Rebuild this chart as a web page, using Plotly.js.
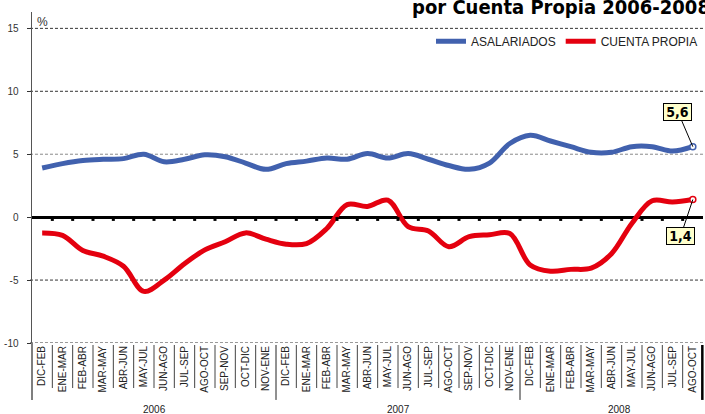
<!DOCTYPE html>
<html>
<head>
<meta charset="utf-8">
<script src="https://cdn.plot.ly/plotly-3.0.1.min.js"></script>
<style>html,body{margin:0;padding:0;background:#fff;}#chart{width:705px;height:414px;}</style>
</head>
<body>
<div id="chart"></div>
<script>
const categories = [
  'DIC-FEB','ENE-MAR','FEB-ABR','MAR-MAY','ABR-JUN','MAY-JUL','JUN-AGO','JUL-SEP','AGO-OCT','SEP-NOV','OCT-DIC','NOV-ENE',
  'DIC-FEB','ENE-MAR','FEB-ABR','MAR-MAY','ABR-JUN','MAY-JUL','JUN-AGO','JUL-SEP','AGO-OCT','SEP-NOV','OCT-DIC','NOV-ENE',
  'DIC-FEB','ENE-MAR','FEB-ABR','MAR-MAY','ABR-JUN','MAY-JUL','JUN-AGO','JUL-SEP','AGO-OCT'
];
const years = ['2006','2007','2008'];
const yearCounts = [12, 12, 9];
const asalariados = [3.9,4.25,4.5,4.6,4.65,5.0,4.4,4.6,4.95,4.8,4.3,3.8,
                     4.25,4.45,4.7,4.6,5.05,4.7,5.05,4.6,4.1,3.8,4.3,5.85,
                     6.5,6.05,5.6,5.15,5.15,5.6,5.6,5.25,5.6];
const cuentaPropia = [-1.25,-1.45,-2.65,-3.1,-3.9,-5.9,-5.0,-3.7,-2.6,-1.95,-1.25,-1.75,
                      -2.15,-2.1,-0.9,1.0,0.85,1.35,-0.75,-1.1,-2.35,-1.55,-1.4,-1.3,
                      -3.8,-4.3,-4.15,-4.05,-2.9,-0.5,1.3,1.2,1.4];
const seriesNames = ['ASALARIADOS','CUENTA PROPIA'];
const yTicks = [-10,-5,0,5,10,15];
const titleText = 'por Cuenta Propia 2006-2008';

const BLUE = '#4161ae', RED = '#e4000f';
const FONT = 'Liberation Sans, Arial, sans-serif';
const NARROW = 'Liberation Sans Narrow, DejaVu Sans Condensed, Arial Narrow, sans-serif';
const idx = categories.map((_, i) => i);
const n = categories.length;
const last = n - 1;

function lineTrace(name, ys, color) {
  return {x: idx, y: ys, name: name, type: 'scatter', mode: 'lines',
    line: {color: color, width: 5, shape: 'spline', smoothing: 1}, hoverinfo: 'skip'};
}
function endTrace(ys, color) {
  return {x: [idx[last]], y: [ys[last]], type: 'scatter', mode: 'markers', showlegend: false,
    marker: {size: 6, color: '#fff', line: {color: color, width: 1.5}}, hoverinfo: 'skip'};
}
const data = [
  lineTrace(seriesNames[0], asalariados, BLUE),
  lineTrace(seriesNames[1], cuentaPropia, RED),
  endTrace(asalariados, BLUE),
  endTrace(cuentaPropia, RED)
];

const shapes = [];
yTicks.filter(v => v !== 0).forEach(v => {
  shapes.push({type: 'line', xref: 'paper', yref: 'y', x0: -0.003, x1: 1, y0: v, y1: v, layer: 'below',
    line: {color: v === 5 ? '#8a8a8a' : '#333', width: 1, dash: '3px,2px'}});
});
const yearBounds = [];
let acc = 0;
yearCounts.forEach(c => { acc += c; yearBounds.push(acc); });
for (let k = 1; k < n; k++) {
  shapes.push({type: 'line', xref: 'x', yref: 'y', x0: k - 0.5, x1: k - 0.5, y0: 0, y1: -0.3,
    line: {color: '#000', width: 3}});
  const isYear = yearBounds.indexOf(k) >= 0;
  shapes.push({type: 'line', xref: 'x', yref: 'paper', x0: k - 0.5, x1: k - 0.5, y0: -0.006, y1: isYear ? -0.172 : -0.136,
    line: {color: isYear ? '#222' : '#444', width: 1}});
}
shapes.push({type: 'line', xref: 'paper', yref: 'paper', x0: 0, x1: 0, y0: 0, y1: -0.172, line: {color: '#555', width: 1.5}});
shapes.push({type: 'line', xref: 'paper', yref: 'paper', x0: 0.999, x1: 0.999, y0: -0.006, y1: -0.172, line: {color: '#000', width: 2.5}});

const annotations = [];
let start = 0;
const yearCenterOffset = [0, 0, 0.4];
years.forEach((yv, j) => {
  const c = start + yearCounts[j] / 2 + yearCenterOffset[j];
  annotations.push({text: yv, xref: 'paper', yref: 'paper', x: c / n, y: -0.2, xanchor: 'center', yanchor: 'middle',
    showarrow: false, font: {family: FONT, size: 10, color: '#222'}});
  start += yearCounts[j];
});
annotations.push({text: '%', xref: 'paper', yref: 'paper', x: 0.005, y: 0.97, xanchor: 'left', yanchor: 'middle',
  showarrow: false, font: {family: FONT, size: 12, color: '#333'}});
annotations.push({text: '<b>' + titleText + '</b>', xref: 'paper', yref: 'paper', x: 1.013, y: 0.972,
  xanchor: 'right', yanchor: 'bottom', showarrow: false, font: {family: NARROW, size: 20, color: '#000'}});
function fmt(v) { return v.toFixed(1).replace('.', ','); }
function callout(ys, ax, ay) {
  return {text: '<b>' + fmt(ys[last]) + '</b>', x: idx[last], y: ys[last], xref: 'x', yref: 'y',
    ax: ax, ay: ay, showarrow: true, arrowhead: 0, arrowwidth: 1, arrowcolor: '#000',
    bgcolor: '#ffffcc', bordercolor: '#000', borderwidth: 1, borderpad: 1, width: 25, height: 14,
    font: {family: NARROW, size: 14, color: '#000'}};
}
annotations.push(callout(asalariados, -15, -35));
annotations.push(callout(cuentaPropia, -12, 36));

const layout = {
  width: 705, height: 414,
  margin: {l: 32, r: 2, t: 12, b: 71, pad: 0},
  paper_bgcolor: '#fff', plot_bgcolor: '#fff',
  showlegend: true,
  legend: {orientation: 'h', x: 1, xanchor: 'right', y: 0.912, yanchor: 'middle',
    font: {family: FONT, size: 12, color: '#222'}, bgcolor: 'rgba(0,0,0,0)', itemwidth: 30},
  xaxis: {range: [-0.5, n - 0.5], tickvals: idx, ticktext: categories, tickangle: -90,
    tickfont: {family: FONT, size: 10, color: '#222'}, showgrid: false, zeroline: false, showline: false,
    ticks: '', fixedrange: true},
  yaxis: {range: [-10, 16.3], tickvals: yTicks, ticktext: yTicks.map(String), showgrid: false,
    zeroline: true, zerolinecolor: '#000', zerolinewidth: 3, showline: true, linecolor: '#555', linewidth: 1.5,
    ticks: 'outside', ticklen: 4, tickcolor: '#333', tickwidth: 1,
    tickfont: {family: FONT, size: 10, color: '#333'}, ticklabelstandoff: 6, fixedrange: true},
  shapes: shapes,
  annotations: annotations
};
Plotly.newPlot('chart', data, layout, {displayModeBar: false, staticPlot: true});
</script>
</body>
</html>
